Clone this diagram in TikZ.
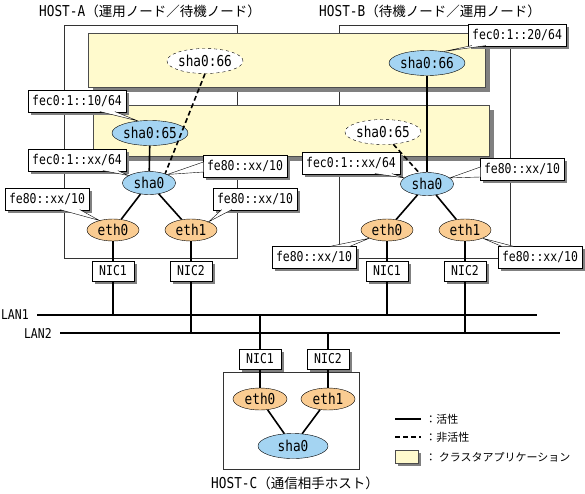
\documentclass[tikz,border=0pt]{standalone}
\usepackage{fontspec}
\setmainfont{DejaVu Sans Mono}[FakeStretch=0.85]
\newfontfamily\jpfont{Noto Sans CJK JP}
\usetikzlibrary{calc,positioning,shadows,shapes.geometric}

\definecolor{appyellow}{RGB}{255,250,205}
\definecolor{ifblue}{RGB}{164,212,242}
\definecolor{ethorange}{RGB}{250,204,146}

\begin{document}
\begin{tikzpicture}[x=1pt,y=-1pt,inner sep=0.4mm,
  font=\fontsize{13.5}{15}\selectfont,
  sdw/.style={drop shadow={shadow xshift=3pt,shadow yshift=-3pt,fill=black!50,opacity=1}},
  app/.style={draw=black!70,fill=appyellow,drop shadow={shadow xshift=5pt,shadow yshift=-5pt,fill=black!50,opacity=1}},
  host/.style={draw=black!80,thin},
  addr/.style={draw,fill=white,minimum height=22pt,inner xsep=4pt,sdw},
  nic/.style={draw,fill=white,minimum width=42pt,minimum height=20pt,sdw},
  vip/.style={ellipse,draw,fill=ifblue,minimum width=70pt,minimum height=25pt,inner sep=0pt,font=\fontsize{15}{16}\selectfont},
  vipoff/.style={vip,dashed,fill=white},
  sha/.style={vip,minimum width=53pt,minimum height=23pt},
  eth/.style={sha,fill=ethorange,minimum width=52pt,minimum height=22pt},
  up/.style={line width=1.6pt},
  down/.style={line width=1.6pt,dash pattern=on 5pt off 3pt},
  ptr/.style={draw,fill=white},
  ttl/.style={font=\fontsize{15}{16}\selectfont,inner sep=0pt}]
\useasboundingbox (0,0) rectangle (585,493);

\coordinate (lan1w) at (37,315);
\coordinate (lan1e) at (537,315);
\coordinate (lan2w) at (60,333);
\coordinate (lan2e) at (560,333);

\draw[host] (64,25) rectangle (237,258);
\draw[host] (339,25) rectangle (510,258);
\draw[host] (223,372) rectangle (359,469);

\draw[app] (88,33) rectangle (485,87);
\draw[app] (93,105) rectangle (489,156);

\node[ttl] (titleA) at (150,11) {HOST-A{\jpfont\fontsize{13.5}{15}\selectfont（運用ノード／待機ノード）}};
\node[ttl] (titleB) at (430,11) {HOST-B{\jpfont\fontsize{13.5}{15}\selectfont（待機ノード／運用ノード）}};
\node[ttl] (titleC) at (295,483) {HOST-C{\jpfont\fontsize{13.5}{15}\selectfont（通信相手ホスト）}};

\node[vipoff] (s66a) at (205,61) {sha0:66};
\node[vip] (s66b) at (427,63) {sha0:66};
\node[vip] (s65a) at (150,133) {sha0:65};
\node[vipoff] (s65b) at (383,132) {sha0:65};

\node[sha] (shaA) at (149,183) {sha0};
\node[sha] (shaB) at (427,184) {sha0};
\node[sha,minimum width=70pt,minimum height=25pt] (shaC) at (293,446) {sha0};

\node[eth] (eth0A) at (113,230) {eth0};
\node[eth] (eth1A) at (191,230) {eth1};
\node[eth] (eth0B) at (387,230) {eth0};
\node[eth] (eth1B) at (465,230) {eth1};
\node[eth,minimum width=54pt] (eth0C) at (260,399) {eth0};
\node[eth,minimum width=54pt] (eth1C) at (328,399) {eth1};

\node[nic] (nic1A) at (113,271) {NIC1};
\node[nic] (nic2A) at (191,271) {NIC2};
\node[nic] (nic1B) at (387,271) {NIC1};
\node[nic] (nic2B) at (465,271) {NIC2};
\node[nic] (nic1C) at (260,359) {NIC1};
\node[nic] (nic2C) at (328,359) {NIC2};

\draw[up] (s65a) -- (shaA);
\draw[down] (s66a.south) -- (shaA.30);
\draw[up] (s66b) -- (shaB);
\draw[down] (s65b.310) -- (shaB.125);

\draw[up] (shaA) -- (eth0A);
\draw[up] (shaA) -- (eth1A);
\draw[up] (shaB) -- (eth0B);
\draw[up] (shaB) -- (eth1B);
\draw[up] (shaC) -- (eth0C);
\draw[up] (shaC) -- (eth1C);

\draw[up] (eth0A) -- (nic1A);
\draw[up] (eth1A) -- (nic2A);
\draw[up] (eth0B) -- (nic1B);
\draw[up] (eth1B) -- (nic2B);
\draw[up] (eth0C) -- (nic1C);
\draw[up] (eth1C) -- (nic2C);

\draw[up] (lan1w) -- (lan1e);
\draw[up] (lan2w) -- (lan2e);
\draw[up] (nic1A) -- (nic1A |- lan1w);
\draw[up] (nic2A) -- (nic2A |- lan2w);
\draw[up] (nic1B) -- (nic1B |- lan1w);
\draw[up] (nic2B) -- (nic2B |- lan2w);
\draw[up] (nic1C) -- (nic1C |- lan1w);
\draw[up] (nic2C) -- (nic2C |- lan2w);

\node[left=7pt] (lan1) at (lan1w) {LAN1};
\node[left=7pt] (lan2) at (lan2w) {LAN2};

\node[addr] (fecA10) at (77,101) {fec0:1::10/64};
\draw[ptr] ($(fecA10.south west)+(72,-0.6)$) -- (s65a.135) -- ($(fecA10.south west)+(87,-0.6)$);
\node[addr] (fecAxx) at (77,160) {fec0:1::xx/64};
\draw[ptr] ($(fecAxx.south west)+(75,-0.6)$) -- (shaA.160) -- ($(fecAxx.south west)+(90,-0.6)$);
\node[addr] (fe80A) at (245,166) {fe80::xx/10};
\draw[ptr] ($(fe80A.west)+(0.6,-4)$) -- (shaA.25) -- ($(fe80A.west)+(0.6,6)$);
\node[addr] (fe80A0) at (47,199) {fe80::xx/10};
\draw[ptr] ($(fe80A0.south west)+(55,-0.6)$) -- (eth0A.145) -- ($(fe80A0.south west)+(75,-0.6)$);
\node[addr] (fe80A1) at (255,199) {fe80::xx/10};
\draw[ptr] ($(fe80A1.south west)+(9,-0.6)$) -- (eth1A.25) -- ($(fe80A1.south west)+(19,-0.6)$);

\node[addr] (fecB20) at (517,35) {fec0:1::20/64};
\draw[ptr] ($(fecB20.south west)+(4,-0.6)$) -- (s66b.35) -- ($(fecB20.south west)+(18,-0.6)$);
\node[addr] (fecBxx) at (351,163) {fec0:1::xx/64};
\draw[ptr] ($(fecBxx.south west)+(73,-0.6)$) -- (shaB.165) -- ($(fecBxx.south west)+(90,-0.6)$);
\node[addr] (fe80B) at (522,169) {fe80::xx/10};
\draw[ptr] ($(fe80B.west)+(0.6,-2)$) -- (shaB.15) -- ($(fe80B.west)+(0.6,8)$);
\node[addr] (fe80B0) at (314,257) {fe80::xx/10};
\draw[ptr] ($(fe80B0.north west)+(58,0.6)$) -- (eth0B.205) -- ($(fe80B0.north west)+(78,0.6)$);
\node[addr] (fe80B1) at (540,257) {fe80::xx/10};
\draw[ptr] ($(fe80B1.north west)+(4,0.6)$) -- (eth1B.335) -- ($(fe80B1.north west)+(16,0.6)$);

\coordinate (lgA) at (395,419);
\coordinate (lgB) at (421,419);
\coordinate (lgC) at (395,437);
\coordinate (lgD) at (421,437);
\draw[up] (lgA) -- (lgB);
\draw[down] (lgC) -- (lgD);
\draw[draw=black!70,fill=appyellow,sdw] (395,450) rectangle (418,463);
\node[right] (lgAct) at (424,419) {\jpfont\fontsize{11}{12}\selectfont ：活性};
\node[right] (lgStb) at (424,437) {\jpfont\fontsize{11}{12}\selectfont ：非活性};
\node[right] (lgApp) at (424,457) {\jpfont\fontsize{11}{12}\selectfont ： クラスタアプリケーション};
\end{tikzpicture}
\end{document}
